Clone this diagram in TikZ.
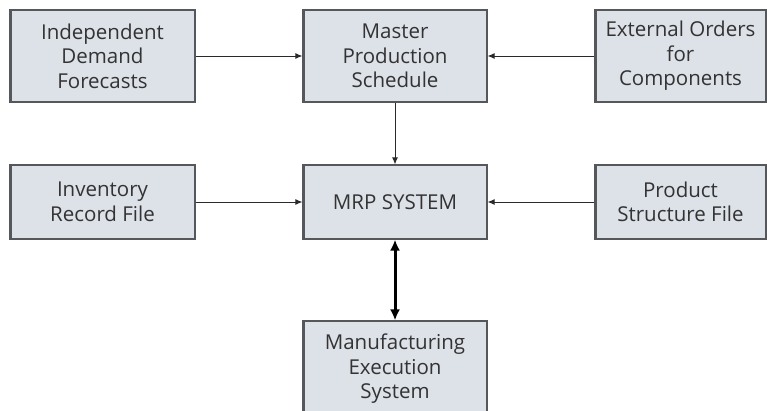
\documentclass[tikz,border=0pt]{standalone}
\usepackage{fontspec}
\setmainfont{Open Sans}
\usetikzlibrary{arrows.meta}
\definecolor{boxfill}{HTML}{DDE1E8}
\definecolor{boxline}{HTML}{55575B}
\definecolor{txt}{HTML}{333333}
\definecolor{arr}{HTML}{2A2A2A}
\tikzset{
  box/.style={draw=boxline, line width=1.1pt, fill=boxfill, rectangle,
    text=txt, align=center, inner sep=0pt,
    font=\fontsize{20.5}{24.5}\selectfont,
    path picture={\draw[boxline, line width=4pt]
      (path picture bounding box.north west) -- (path picture bounding box.south west);}},
  conn/.style={draw=arr, line width=1pt, -{Latex[length=7pt,width=6pt]}},
  bothconn/.style={draw=black, line width=3pt, {Latex[length=11pt,width=10pt]}-{Latex[length=11pt,width=10pt]}}
}
\begin{document}
\begin{tikzpicture}[x=1pt,y=-1pt]
\useasboundingbox (0,0) rectangle (767,410);
\clip (0,0) rectangle (767,410);
\fill[white] (0,0) rectangle (767,410);
\node[box, minimum width=185pt, minimum height=92pt] (idf) at (102.5,56) {Independent\\Demand\\Forecasts};
\node[box, minimum width=184pt, minimum height=92pt] (mps) at (395,56) {Master\\Production\\Schedule};
\node[box, minimum width=171pt, minimum height=92pt] (ext) at (680.5,56) {External Orders\\for\\Components};
\node[box, minimum width=185pt, minimum height=74pt] (inv) at (102.5,202) {Inventory\\Record File};
\node[box, minimum width=184pt, minimum height=74pt] (mrp) at (395,202) {MRP SYSTEM};
\node[box, minimum width=171pt, minimum height=74pt] (psf) at (680.5,202) {Product\\Structure File};
\node[box, minimum width=184pt, minimum height=96pt] (mes) at (395,369) {Manufacturing\\Execution\\System};
\draw[conn] (idf) -- (mps);
\draw[conn] (ext) -- (mps);
\draw[conn] (mps) -- (mrp);
\draw[conn] (inv) -- (mrp);
\draw[conn] (psf) -- (mrp);
\draw[bothconn] (mrp) -- (mes);
\end{tikzpicture}
\end{document}
